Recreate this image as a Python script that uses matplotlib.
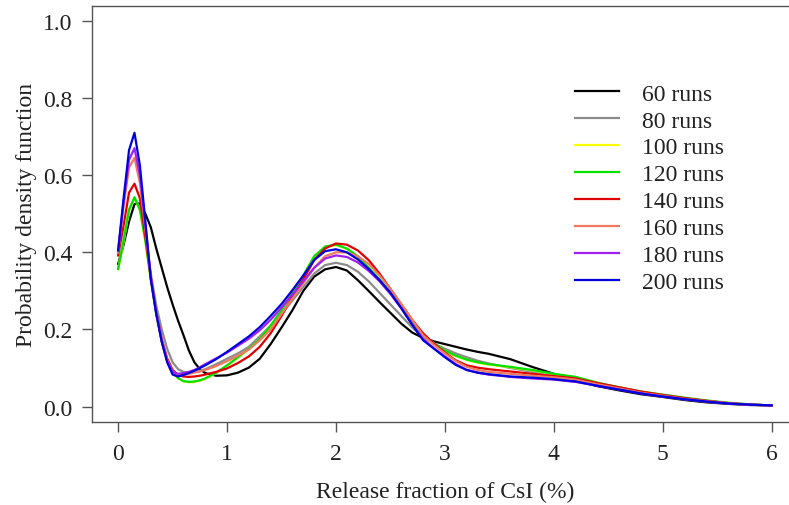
import matplotlib
matplotlib.use('Agg')
import matplotlib.pyplot as plt

# x positions (release fraction, %) where the curves were read
x_vals = [0, 0.05, 0.1, 0.15, 0.2, 0.25, 0.3, 0.35, 0.4, 0.45, 0.5, 0.55, 0.6, 0.65, 0.7, 0.75, 0.8,
          0.9, 1.0, 1.1, 1.2, 1.3, 1.4, 1.5, 1.6, 1.7, 1.8, 1.9, 2.0, 2.1, 2.2, 2.3, 2.4, 2.5,
          2.6, 2.7, 2.8, 2.9, 3.0, 3.1, 3.2, 3.3, 3.4,
          3.6, 3.8, 4.0, 4.2, 4.4, 4.6, 4.8, 5.0, 5.2, 5.4, 5.6, 5.8, 6.0]

runs_60 = [0.37, 0.42, 0.48, 0.525, 0.527, 0.50, 0.465, 0.41, 0.36, 0.31, 0.265, 0.223, 0.185, 0.145, 0.115, 0.097, 0.087,
           0.080, 0.081, 0.088, 0.101, 0.124, 0.162, 0.205, 0.25, 0.30, 0.337, 0.356, 0.362, 0.353, 0.328, 0.30, 0.271, 0.243,
           0.215, 0.192, 0.178, 0.169, 0.162, 0.155, 0.148, 0.142, 0.137,
           0.123, 0.103, 0.085, 0.068, 0.053, 0.042, 0.032, 0.025, 0.017, 0.011, 0.007, 0.004, 0.003]
runs_80 = [0.36, 0.43, 0.51, 0.54, 0.515, 0.44, 0.345, 0.262, 0.20, 0.15, 0.115, 0.097, 0.09, 0.088, 0.09, 0.093, 0.097,
           0.11, 0.124, 0.138, 0.155, 0.182, 0.21, 0.24, 0.275, 0.31, 0.345, 0.367, 0.373, 0.367, 0.35, 0.325, 0.295, 0.265,
           0.235, 0.205, 0.18, 0.163, 0.15, 0.138, 0.128, 0.119, 0.112,
           0.10, 0.09, 0.08, 0.07, 0.056, 0.045, 0.035, 0.027, 0.019, 0.013, 0.008, 0.005, 0.003]
runs_100 = [0.356, 0.429, 0.509, 0.542, 0.509, 0.429, 0.329, 0.239, 0.169, 0.119, 0.089, 0.073, 0.065, 0.063, 0.064, 0.067, 0.072,
            0.087, 0.106, 0.127, 0.149, 0.174, 0.209, 0.249, 0.294, 0.339, 0.389, 0.414, 0.419, 0.409, 0.389, 0.359, 0.329, 0.294,
            0.259, 0.219, 0.184, 0.163, 0.144, 0.131, 0.121, 0.114, 0.109,
            0.102, 0.094, 0.084, 0.076, 0.061, 0.049, 0.038, 0.03, 0.022, 0.015, 0.009, 0.005, 0.003]
runs_120 = [0.357, 0.43, 0.51, 0.543, 0.51, 0.43, 0.33, 0.24, 0.17, 0.12, 0.09, 0.074, 0.066, 0.064, 0.065, 0.068, 0.073,
            0.088, 0.107, 0.128, 0.15, 0.175, 0.21, 0.25, 0.295, 0.34, 0.39, 0.415, 0.42, 0.41, 0.39, 0.36, 0.33, 0.295,
            0.26, 0.22, 0.185, 0.164, 0.145, 0.132, 0.122, 0.115, 0.11,
            0.103, 0.095, 0.085, 0.077, 0.062, 0.05, 0.039, 0.031, 0.023, 0.016, 0.01, 0.006, 0.003]
runs_140 = [0.392, 0.47, 0.555, 0.578, 0.54, 0.44, 0.335, 0.245, 0.175, 0.125, 0.095, 0.082, 0.078, 0.077, 0.078, 0.08, 0.083,
            0.09, 0.099, 0.113, 0.13, 0.155, 0.19, 0.235, 0.285, 0.33, 0.38, 0.41, 0.423, 0.42, 0.405, 0.38, 0.345, 0.305,
            0.265, 0.225, 0.19, 0.163, 0.14, 0.12, 0.107, 0.101, 0.097,
            0.091, 0.085, 0.079, 0.073, 0.061, 0.05, 0.039, 0.03, 0.022, 0.015, 0.009, 0.005, 0.003]
runs_160 = [0.40, 0.52, 0.62, 0.645, 0.58, 0.46, 0.335, 0.245, 0.172, 0.12, 0.09, 0.083, 0.083, 0.085, 0.088, 0.091, 0.095,
            0.105, 0.118, 0.132, 0.148, 0.172, 0.20, 0.24, 0.28, 0.32, 0.36, 0.39, 0.40, 0.40, 0.39, 0.37, 0.34, 0.305,
            0.265, 0.225, 0.185, 0.16, 0.138, 0.118, 0.103, 0.095, 0.09,
            0.085, 0.08, 0.076, 0.07, 0.058, 0.047, 0.036, 0.028, 0.02, 0.014, 0.009, 0.005, 0.003]
runs_180 = [0.405, 0.53, 0.64, 0.67, 0.60, 0.47, 0.335, 0.243, 0.17, 0.118, 0.09, 0.085, 0.087, 0.09, 0.095, 0.102, 0.11,
            0.125, 0.14, 0.158, 0.176, 0.198, 0.225, 0.257, 0.29, 0.325, 0.36, 0.384, 0.392, 0.388, 0.374, 0.352, 0.325, 0.292,
            0.255, 0.213, 0.175, 0.151, 0.13, 0.11, 0.095, 0.088, 0.083,
            0.077, 0.073, 0.07, 0.064, 0.054, 0.044, 0.034, 0.026, 0.019, 0.013, 0.008, 0.005, 0.003]
runs_200 = [0.405, 0.54, 0.665, 0.71, 0.625, 0.48, 0.33, 0.24, 0.168, 0.115, 0.083, 0.078, 0.082, 0.087, 0.093, 0.1, 0.107,
            0.123, 0.142, 0.162, 0.182, 0.206, 0.235, 0.266, 0.302, 0.34, 0.38, 0.403, 0.408, 0.40, 0.382, 0.357, 0.328, 0.295,
            0.255, 0.212, 0.172, 0.15, 0.128, 0.108, 0.095, 0.088, 0.084,
            0.078, 0.075, 0.071, 0.065, 0.054, 0.044, 0.034, 0.026, 0.019, 0.013, 0.008, 0.005, 0.003]

series = [runs_60, runs_80, runs_100, runs_120, runs_140, runs_160, runs_180, runs_200]
labels = ['60 runs', '80 runs', '100 runs', '120 runs', '140 runs', '160 runs', '180 runs', '200 runs']
colors = ['#000000', '#8c8c8c', '#ffff00', '#00e000', '#e00000', '#f07860', '#a020f0', '#0000dd']

x_ticks = [0, 1, 2, 3, 4, 5, 6]
y_ticks = [0.0, 0.2, 0.4, 0.6, 0.8, 1.0]

plt.rcParams['font.family'] = ['Liberation Serif', 'DejaVu Serif']

fig = plt.figure(figsize=(7.89, 5.06), dpi=100)
ax = fig.add_axes([92 / 789, 1 - 423 / 506, 705.8 / 789, 416.4 / 506])

for vals, lab, col in zip(series, labels, colors):
    ax.plot(x_vals, vals, color=col, linewidth=1.6, label=lab)

ax.set_xlim(-0.24, 6.24)
ax.set_ylim(-0.04, 1.04)
ax.set_xticks(x_ticks)
ax.set_xticklabels([str(t) for t in x_ticks])
ax.set_yticks(y_ticks)
ax.set_yticklabels([f'{t:.1f}' for t in y_ticks])

spine_col = '#555555'
for s in ax.spines.values():
    s.set_color(spine_col)
    s.set_linewidth(1.0)
ax.tick_params(direction='out', length=7, width=1.0, color=spine_col,
               labelsize=17, colors='#222222')
ax.tick_params(axis='x', pad=8)
ax.tick_params(axis='y', pad=7)

ax.set_xlabel('Release fraction of CsI (%)', fontsize=17, color='#222222')
ax.set_ylabel('Probability density function', fontsize=17, color='#222222')
ax.xaxis.set_label_coords(0.5, -0.142)
ax.yaxis.set_label_coords(-0.078, 0.5)

leg = ax.legend(loc='upper left', bbox_to_anchor=(0.684, 0.814), frameon=False,
                fontsize=17, handlelength=1.86, handletextpad=0.97,
                labelspacing=0.23, borderpad=0, borderaxespad=0)
for t in leg.get_texts():
    t.set_color('#222222')

fig.savefig('out.png', dpi=100)
